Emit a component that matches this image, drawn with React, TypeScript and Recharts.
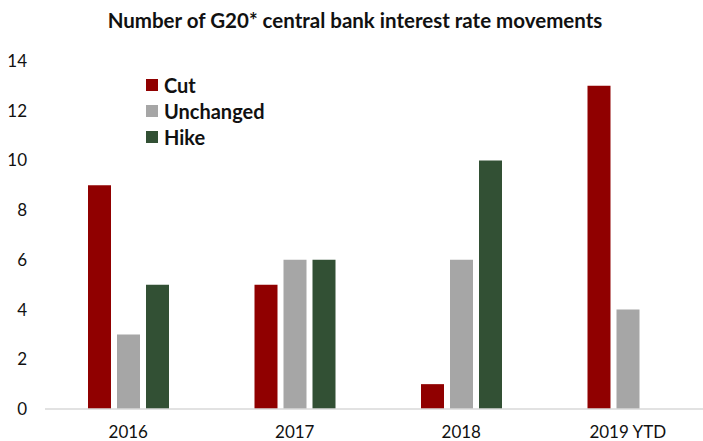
import React from "react";
import { Bar, BarChart, XAxis, YAxis } from "recharts";

const years = ["2016", "2017", "2018", "2019 YTD"];
const cutValues = [9, 5, 1, 13];
const unchangedValues = [3, 6, 6, 4];
const hikeValues = [5, 6, 10, 0];
const yTicks = [0, 2, 4, 6, 8, 10, 12, 14];

const series = [
  { key: "cut", name: "Cut", color: "#900000" },
  { key: "unchanged", name: "Unchanged", color: "#A6A6A6" },
  { key: "hike", name: "Hike", color: "#325034" },
];

const data = years.map((year, i) => ({
  year,
  cut: cutValues[i],
  unchanged: unchangedValues[i],
  hike: hikeValues[i],
}));

const font = "Lato, 'Open Sans', sans-serif";

function LegendList() {
  return (
    <div
      style={{ position: "absolute", top: 72, left: 146, fontFamily: font }}
    >
      {series.map((s) => (
        <div
          key={s.key}
          style={{ display: "flex", alignItems: "center", height: 26 }}
        >
          <span
            style={{
              width: 12,
              height: 12,
              background: s.color,
              marginRight: 6,
              display: "inline-block",
            }}
          />
          <span style={{ fontSize: 20, fontWeight: 700, color: "#111" }}>
            {s.name}
          </span>
        </div>
      ))}
    </div>
  );
}

export default function App() {
  return (
    <div
      style={{
        position: "absolute",
        left: 0,
        top: 0,
        width: 703,
        height: 441,
        overflow: "hidden",
        background: "#fff",
        fontFamily: font,
      }}
    >
      <div
        style={{
          position: "absolute",
          top: 8,
          left: 0,
          width: 710,
          textAlign: "center",
          fontSize: 20.5,
          fontWeight: 700,
          color: "#111",
          whiteSpace: "nowrap",
        }}
      >
        Number of G20* central bank interest rate movements
      </div>
      <BarChart
        width={711}
        height={441}
        data={data}
        margin={{ top: 61, right: 0, left: 0, bottom: 0 }}
        barSize={23}
        barGap={6}
      >
        <XAxis
          dataKey="year"
          height={32}
          tickLine={false}
          tickSize={0}
          tickMargin={17}
          axisLine={{ stroke: "#D9D9D9", strokeWidth: 1.5 }}
          tick={{ fill: "#111", fontSize: 17, fontFamily: font }}
        />
        <YAxis
          width={45}
          domain={[0, 14]}
          ticks={yTicks}
          interval={0}
          axisLine={false}
          tickLine={false}
          tickSize={0}
          tickMargin={18}
          tick={{ fill: "#111", fontSize: 17, fontFamily: font }}
        />
        {series.map((s) => (
          <Bar
            key={s.key}
            dataKey={s.key}
            name={s.name}
            fill={s.color}
            isAnimationActive={false}
          />
        ))}
      </BarChart>
      <LegendList />
    </div>
  );
}
